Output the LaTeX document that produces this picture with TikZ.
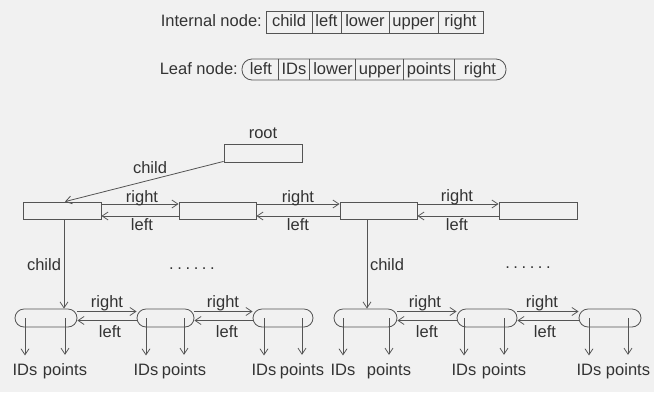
\documentclass[tikz,border=0pt]{standalone}
\usepackage{fontspec}
\setmainfont{Liberation Sans}
\usetikzlibrary{arrows.meta}
\definecolor{lc}{gray}{0.33}
\definecolor{tc}{gray}{0.2}
\definecolor{bg}{gray}{0.945}
\begin{document}
\begin{tikzpicture}[x=1pt,y=-1pt,
  font=\fontsize{16.5}{19}\selectfont,
  ln/.style={draw=lc, line width=0.8pt},
  box/.style={draw=lc, line width=0.8pt, minimum height=17pt, inner sep=0pt, text=tc},
  pill/.style={box, rounded corners=9pt, minimum height=18pt},
  cell/.style={box, minimum height=22pt, text height=12pt, text depth=3.5pt},
  arr/.style={draw=lc, line width=0.8pt, -{Straight Barb[length=6pt,width=8pt]}},
  lbl/.style={text=tc, inner sep=1pt, text height=12pt, text depth=3.5pt},
  leaflbl/.style={text=tc, inner sep=1pt, anchor=base}]
\fill[bg] (0,0) rectangle (654,392);
\useasboundingbox (0,0) rectangle (654,392);

% ---- templates
\node[lbl, anchor=east] (intlbl) at (263,22) {Internal node:};
\node[cell, minimum width=46pt] (tc1) at (289,22) {child};
\node[cell, minimum width=29pt] (tc2) at (326.5,22) {left};
\node[cell, minimum width=48pt] (tc3) at (365,22) {lower};
\node[cell, minimum width=49pt] (tc4) at (413.5,22) {upper};
\node[cell, minimum width=45pt] (tc5) at (460.5,22) {right};

\node[lbl, anchor=east] (leaflbl) at (239,70) {Leaf node:};
\node[box, rounded corners=10pt, minimum width=264pt, minimum height=21pt] (leafT) at (374,69.5) {};
\foreach \dx in {-96,-65,-19,29,80}{
  \draw[ln] ([xshift=\dx pt]leafT.north) -- ([xshift=\dx pt]leafT.south);
}
\node[lbl] (lc1) at (261,70) {left};
\node[lbl] (lc2) at (294,70) {IDs};
\node[lbl] (lc3) at (333,70) {lower};
\node[lbl] (lc4) at (380,70) {upper};
\node[lbl] (lc5) at (429,70) {points};
\node[lbl] (lc6) at (480,70) {right};

% ---- tree
\node[box, minimum width=78pt, minimum height=18pt] (root) at (263,153) {};
\node[lbl] (rootlbl) at (263,134) {root};

\node[box, minimum width=78pt] (I1) at (62,210.5) {};
\node[box, minimum width=77pt] (I2) at (217.5,210.5) {};
\node[box, minimum width=77pt] (I3) at (378.5,210.5) {};
\node[box, minimum width=78pt] (I4) at (538,210.5) {};

\draw[arr] ([yshift=1pt]root.south west) -- ([xshift=3pt]I1.north);
\node[lbl] (chl0) at (150,169) {child};

\draw[arr] ([yshift=6.5pt]I1.east) -- ([yshift=6.5pt]I2.west);
\draw[arr] ([yshift=-5.5pt]I2.west) -- ([yshift=-5.5pt]I1.east);
\draw[arr] ([yshift=6.5pt]I2.east) -- ([yshift=6.5pt]I3.west);
\draw[arr] ([yshift=-5.5pt]I3.west) -- ([yshift=-5.5pt]I2.east);
\draw[arr] ([yshift=6.5pt]I3.east) -- ([yshift=6.5pt]I4.west);
\draw[arr] ([yshift=-5.5pt]I4.west) -- ([yshift=-5.5pt]I3.east);
\node[lbl] (r1) at (142,198) {right};
\node[lbl] (l1) at (142,226) {left};
\node[lbl] (r2) at (298,198) {right};
\node[lbl] (l2) at (298,226) {left};
\node[lbl] (r3) at (457,197) {right};
\node[lbl] (l3) at (457,226) {left};

% leaves
\node[pill, minimum width=62pt] (L1) at (46,318) {};
\node[pill, minimum width=57pt] (L2) at (165.5,318) {};
\node[pill, minimum width=60pt] (L3) at (283,318) {};
\node[pill, minimum width=63pt] (L4) at (365.5,318) {};
\node[pill, minimum width=60pt] (L5) at (487,318) {};
\node[pill, minimum width=62pt] (L6) at (610,318) {};

\draw[arr] ([xshift=2pt]I1.south) -- ([xshift=18pt]L1.north);
\draw[arr] ([xshift=-11.5pt]I3.south) -- ([xshift=1.5pt]L4.north);
\node[lbl] (chl1) at (44,266) {child};
\node[lbl] (chl2) at (387,266) {child};

\node[lbl] (dots1) at (192,265) {.\kern3.6pt.\kern3.6pt.\kern3.6pt.\kern3.6pt.\kern3.6pt.};
\node[lbl] (dots2) at (528,264) {.\kern3.6pt.\kern3.6pt.\kern3.6pt.\kern3.6pt.\kern3.6pt.};

\foreach \a/\b in {L1/L2,L2/L3,L4/L5,L5/L6}{
  \draw[arr] ([yshift=6.5pt]\a.east) -- ([yshift=6.5pt]\b.west);
  \draw[arr] ([yshift=-2.5pt]\b.west) -- ([yshift=-2.5pt]\a.east);
}
\node[lbl] (lr1) at (107,303) {right};
\node[lbl] (ll1) at (110,333) {left};
\node[lbl] (lr2) at (223,303) {right};
\node[lbl] (ll2) at (227,333) {left};
\node[lbl] (lr3) at (425,303) {right};
\node[lbl] (ll3) at (427,333) {left};
\node[lbl] (lr4) at (542,303) {right};
\node[lbl] (ll4) at (545,333) {left};

% leaf outputs
\foreach \n/\L/\xi/\xp in {1/L1/25/65, 2/L2/146/184, 3/L3/264/302, 4/L4/343/389, 5/L5/464/504, 6/L6/589/628}{
  \node[leaflbl] (ids\n) at (\xi,375) {IDs};
  \node[leaflbl] (pts\n) at (\xp,375) {points};
  \draw[arr, shorten >=7pt] (ids\n.north |- \L.center) -- (ids\n.north);
  \draw[arr, shorten >=7pt] (pts\n.north |- \L.center) -- (pts\n.north);
}
\end{tikzpicture}
\end{document}
